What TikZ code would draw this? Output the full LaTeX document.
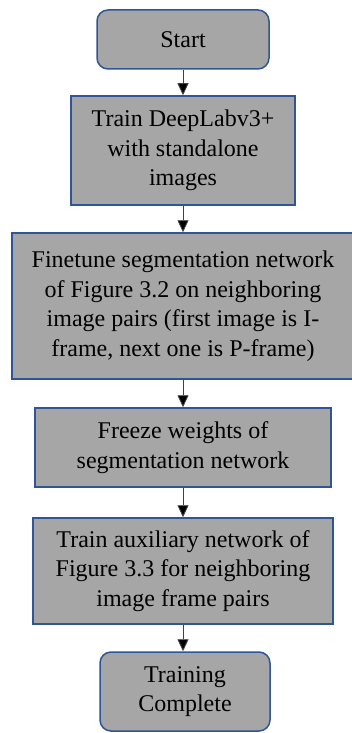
\documentclass[tikz,border=0pt]{standalone}
\usepackage{fontspec}
\setmainfont{Liberation Serif}
\usetikzlibrary{arrows.meta}
\definecolor{boxfill}{HTML}{A6A6A6}
\definecolor{boxedge}{HTML}{2F5597}
\tikzset{
  flowbox/.style={draw=boxedge, line width=1.5pt, fill=boxfill, text=black,
    align=center, inner sep=0pt, font=\fontsize{24}{29.5}\selectfont},
  termbox/.style={flowbox, rounded corners=11pt},
  flowarrow/.style={draw=black!75, line width=0.9pt,
    -{Triangle[width=11pt,length=12pt,fill=black]}}
}
\begin{document}
\begin{tikzpicture}[x=1pt, y=-1pt]
  \useasboundingbox (0,0) rectangle (351,733);
  \node[termbox, minimum width=172pt, minimum height=59pt] (start) at (183,39.5) {Start};
  \node[flowbox, minimum width=224pt, minimum height=109pt] (train) at (183,150.5)
    {Train DeepLabv3+\\with standalone\\images};
  \node[flowbox, minimum width=342pt, minimum height=146pt] (finetune) at (183,306)
    {Finetune segmentation network\\of Figure 3.2 on neighboring\\image pairs (first image is I-\\frame, next one is P-frame)};
  \node[flowbox, minimum width=296pt, minimum height=79pt] (freeze) at (183,447.5)
    {Freeze weights of\\segmentation network};
  \node[flowbox, minimum width=300pt, minimum height=106pt] (aux) at (183,571)
    {Train auxiliary network of\\Figure 3.3 for neighboring\\image frame pairs};
  \node[termbox, minimum width=170pt, minimum height=79pt] (done) at (185,691.5)
    {Training\\Complete};
  \draw[flowarrow] (start.south) -- (train.north);
  \draw[flowarrow] (train.south) -- (finetune.north);
  \draw[flowarrow] (finetune.south) -- (freeze.north);
  \draw[flowarrow] (freeze.south) -- (aux.north);
  \draw[flowarrow] (aux.south) -- (done.north -| aux.south);
\end{tikzpicture}
\end{document}
